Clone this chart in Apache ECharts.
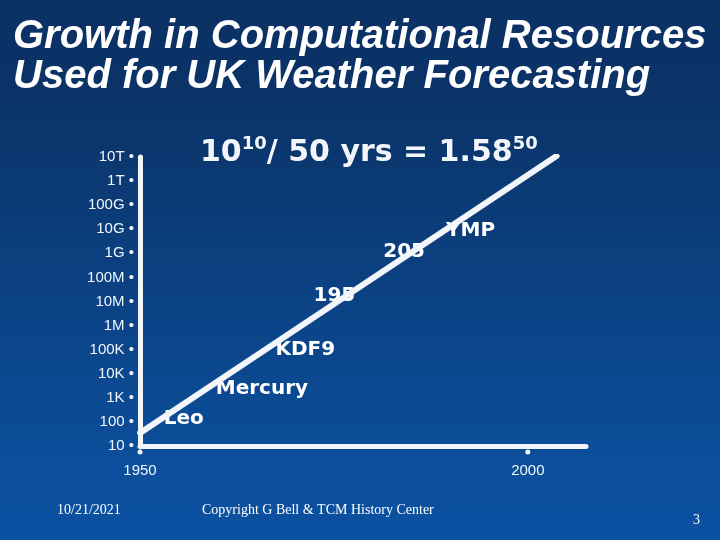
<!DOCTYPE html>
<html>
<head>
<meta charset="utf-8">
<script src="https://cdn.jsdelivr.net/npm/echarts@6/dist/echarts.min.js"></script>
<style>
html,body{margin:0;padding:0;background:#0b3064;}
#chart{width:720px;height:540px;}
</style>
</head>
<body>
<div id="chart"></div>
<script>
// ---- data ----
const yTickLabels = ['10','100','1K','10K','100K','1M','10M','100M','1G','10G','100G','1T','10T'];
const xTickYears = [1950, 2000];
const trendYears = [1950, 2003.7];
const trendValues = [35, 1.1e13];
const machineNames = ['Leo','Mercury','KDF9','195','205','YMP'];
const machineYears = [1953.0, 1959.7, 1967.4, 1972.3, 1981.3, 1989.4];
const machineValues = [132, 2340, 9.7e4, 1.7e7, 1.15e9, 8.4e9];

const titleText = 'Growth in Computational Resources\nUsed for UK Weather Forecasting';
const footerDate = '10/21/2021';
const footerCopy = 'Copyright G Bell & TCM History Center';
const pageNum = '3';

const chart = echarts.init(document.getElementById('chart'), null, {renderer: 'canvas'});
const white = '#f2f6fb';

const option = {
  backgroundColor: {
    type: 'linear', x: 0, y: 0, x2: 0, y2: 1,
    colorStops: [
      {offset: 0, color: '#0b3064'},
      {offset: 0.2, color: '#0b3469'},
      {offset: 0.88, color: '#0b4f9d'},
      {offset: 1, color: '#0b51a1'}
    ]
  },
  animation: false,
  title: {
    text: titleText,
    left: 13, top: 17, padding: 0,
    textStyle: {
      fontFamily: 'Liberation Sans', fontSize: 40, fontWeight: 'bold',
      fontStyle: 'italic', color: '#ffffff', lineHeight: 40
    }
  },
  grid: {left: 140, right: 134, top: 157, bottom: 94, containLabel: false},
  xAxis: {
    type: 'value', min: 1950, max: 2007.5, interval: 50,
    axisLine: {onZero: false, lineStyle: {color: white, width: 5}},
    axisTick: {show: false},
    splitLine: {show: false},
    axisLabel: {
      color: white, fontFamily: 'Liberation Sans', fontSize: 15, margin: 17,
      showMaxLabel: false,
      formatter: v => (xTickYears.indexOf(v) >= 0 ? String(v) : '')
    }
  },
  yAxis: {
    type: 'log', logBase: 10, min: 10, max: 1e13, interval: 1,
    axisLine: {onZero: false, lineStyle: {color: white, width: 5}},
    axisTick: {show: false},
    splitLine: {show: false},
    axisLabel: {
      interval: 0, hideOverlap: false,
      color: white, fontFamily: 'Liberation Sans', fontSize: 15, margin: 6,
      formatter: v => {
        const e = Math.round(Math.log10(v));
        const t = yTickLabels[e - 1];
        return t ? t + ' •' : '';
      }
    }
  },
  series: [
    {
      type: 'scatter', name: 'machines', z: 2, clip: false,
      symbolSize: 1, itemStyle: {color: 'rgba(0,0,0,0)', opacity: 1},
      data: machineNames.map((n, i) => ({name: n, value: [machineYears[i], machineValues[i]]})),
      label: {
        show: true, position: 'right', distance: 0, opacity: 1,
        formatter: p => p.name,
        color: '#ffffff', fontFamily: 'DejaVu Sans', fontWeight: 'bold', fontSize: 20
      }
    },
    {
      type: 'line', name: 'trend', z: 5, symbol: 'none',
      data: trendYears.map((y, i) => [y, trendValues[i]]),
      lineStyle: {color: white, width: 6, cap: 'round', opacity: 1}
    },
    {
      type: 'scatter', name: 'ticks', z: 4, clip: false,
      symbolSize: 5, symbolOffset: [0, 6],
      itemStyle: {color: white, opacity: 1},
      data: xTickYears.map(y => [y, 10])
    }
  ],
  graphic: [
    {
      type: 'text', left: 200, top: 135, z: 10,
      style: {
        text: '{m|10}{s|10}{m|/ 50 yrs = 1.58}{s|50}',
        fill: white,
        rich: {
          m: {fontFamily: 'DejaVu Sans', fontWeight: 'bold', fontSize: 30, lineHeight: 36, fill: white},
          s: {fontFamily: 'DejaVu Sans', fontWeight: 'bold', fontSize: 18, lineHeight: 18, verticalAlign: 'top', fill: white}
        }
      }
    },
    {
      type: 'text', left: 57, top: 503, z: 10,
      style: {text: footerDate, fill: '#ffffff', font: '14px "Liberation Serif"'}
    },
    {
      type: 'text', left: 202, top: 503, z: 10,
      style: {text: footerCopy, fill: '#ffffff', font: '14px "Liberation Serif"'}
    },
    {
      type: 'text', left: 693, top: 513, z: 10,
      style: {text: pageNum, fill: '#ffffff', font: '14px "Liberation Serif"'}
    }
  ]
};
chart.setOption(option);
</script>
</body>
</html>
